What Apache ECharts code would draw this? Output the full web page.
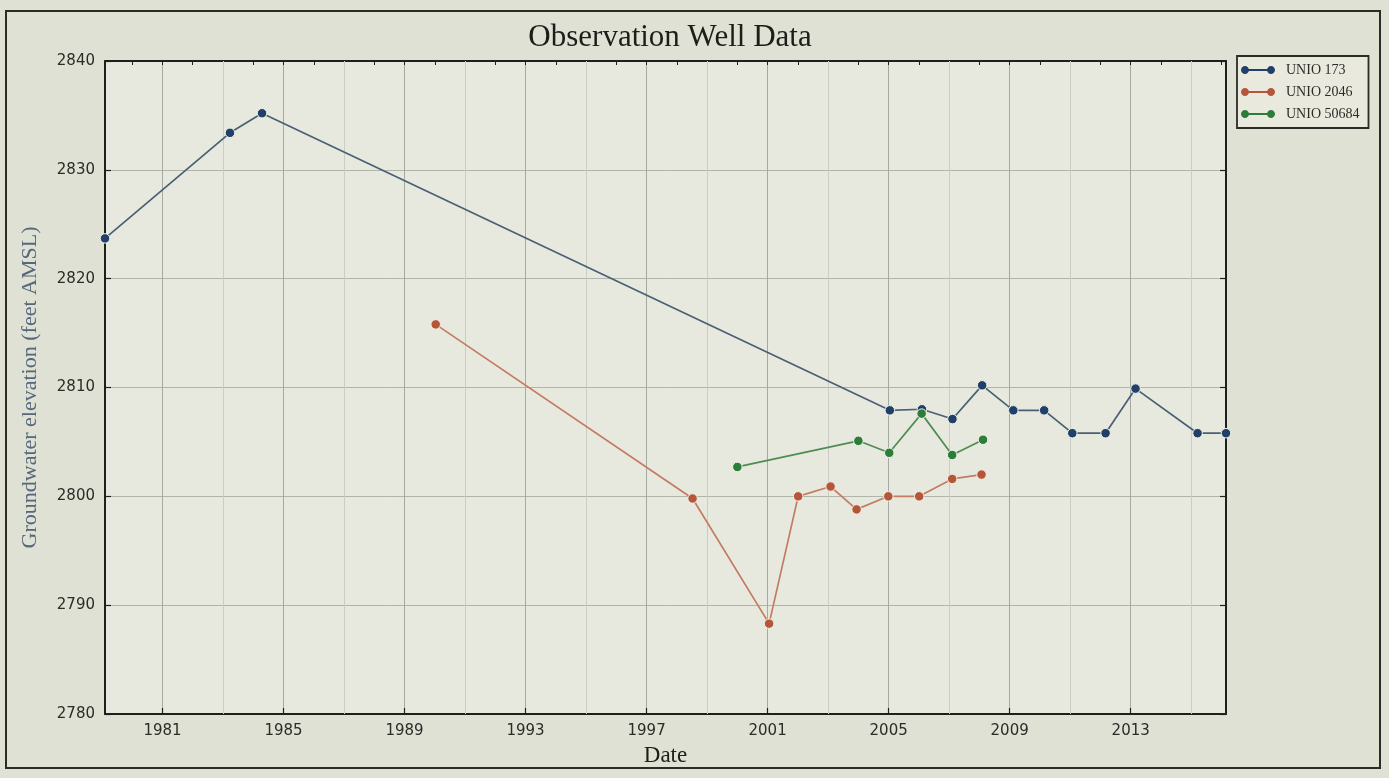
<!DOCTYPE html>
<html>
<head>
<meta charset="utf-8">
<script src="https://cdn.jsdelivr.net/npm/echarts@6/dist/echarts.min.js"></script>
<style>html,body{margin:0;padding:0;background:#dfe1d4;}#c{width:1389px;height:778px;}</style>
</head>
<body>
<div id="c"></div>
<script>
// ---- data (decimal years, elevation ft AMSL) ----
const unio173Years = [1979.1, 1983.23, 1984.29, 2005.04, 2006.1, 2007.11, 2008.09, 2009.12, 2010.14, 2011.07, 2012.17, 2013.16, 2015.21, 2016.15];
const unio173Values = [2823.7, 2833.4, 2835.2, 2807.9, 2808.0, 2807.1, 2810.2, 2807.9, 2807.9, 2805.8, 2805.8, 2809.9, 2805.8, 2805.8];
const unio2046Years = [1990.03, 1998.52, 2001.05, 2002.01, 2003.08, 2003.94, 2004.99, 2006.01, 2007.1, 2008.07];
const unio2046Values = [2815.8, 2799.8, 2788.3, 2800.0, 2800.9, 2798.8, 2800.0, 2800.0, 2801.6, 2802.0];
const unio50684Years = [2000.0, 2004.0, 2005.02, 2006.09, 2007.1, 2008.12];
const unio50684Values = [2802.7, 2805.1, 2804.0, 2807.6, 2803.8, 2805.2];
const seriesNames = ['UNIO 173', 'UNIO 2046', 'UNIO 50684'];
const majorYearTicks = [1981, 1985, 1989, 1993, 1997, 2001, 2005, 2009, 2013];
const minorGridYears = [1979, 1983, 1987, 1991, 1995, 1999, 2003, 2007, 2011, 2015];
const allYearTicks = [1980,1981,1982,1983,1984,1985,1986,1987,1988,1989,1990,1991,1992,1993,1994,1995,1996,1997,1998,1999,2000,2001,2002,2003,2004,2005,2006,2007,2008,2009,2010,2011,2012,2013,2014,2015,2016];
const xMin = 1979.1, xMax = 2016.15;
const yMin = 2780, yMax = 2840, yStep = 10;

const lineColors = ['#4a5f74', '#c27c62', '#4f8c52'];
const markerColors = ['#20406a', '#b5563b', '#2d7d3a'];

function pairs(xs, ys) { return xs.map((x, i) => [x, ys[i]]); }

const legendIcon = 'path://' +
  'M0,4C0,1.79 1.79,0 4,0C6.21,0 8,1.79 8,4C8,6.21 6.21,8 4,8C1.79,8 0,6.21 0,4Z' +
  'M26,4C26,1.79 27.79,0 30,0C32.21,0 34,1.79 34,4C34,6.21 32.21,8 30,8C27.79,8 26,6.21 26,4Z' +
  'M7.5,3L26.5,3L26.5,5L7.5,5Z';
const tickFont = { fontFamily: 'DejaVu Sans', fontSize: 15, color: '#2a2c28' };
const axisLine = { show: true, lineStyle: { color: '#1e201c', width: 2 } };

const chart = echarts.init(document.getElementById('c'), null, { renderer: 'canvas' });

const mkSeries = (i, xs, ys, extra) => Object.assign({
  name: seriesNames[i],
  type: 'line',
  data: pairs(xs, ys),
  xAxisIndex: 0, yAxisIndex: 0,
  symbol: 'circle', symbolSize: 9.5,
  lineStyle: { color: lineColors[i], width: 1.7 },
  itemStyle: { color: markerColors[i], borderColor: '#f2f2e6', borderWidth: 1 },
  emphasis: { disabled: true },
  animation: false,
  clip: false,
  z: 3
}, extra || {});

chart.setOption({
  backgroundColor: '#dfe1d4',
  animation: false,
  title: {
    text: 'Observation Well Data',
    left: 665, textAlign: 'center', top: 17,
    textStyle: { fontFamily: 'Liberation Serif', fontWeight: 'normal', fontSize: 31, color: '#1c1e1a' }
  },
  graphic: [{
    type: 'rect', silent: true, z: -1,
    shape: { x: 6, y: 11, width: 1374, height: 757 },
    style: { fill: 'none', stroke: '#2a2c28', lineWidth: 2 }
  }],
  legend: {
    orient: 'vertical', left: 1237, top: 56,
    data: seriesNames.map((n, i) => ({ name: n, itemStyle: { color: markerColors[i], borderWidth: 0 } })),
    icon: legendIcon, itemWidth: 34, itemHeight: 8, itemGap: 8,
    padding: [7, 9, 7, 4],
    backgroundColor: '#e9e9dd', borderColor: '#2a2c28', borderWidth: 1.8,
    textStyle: { fontFamily: 'Liberation Serif', fontSize: 14, color: '#2a2c28', padding: [0, 0, 0, 6] }
  },
  grid: { left: 105, right: 163, top: 61, bottom: 64, show: true, backgroundColor: '#e8e9de', borderWidth: 0 },
  xAxis: [{
    type: 'value', min: xMin, max: xMax, position: 'bottom',
    name: 'Date', nameLocation: 'middle', nameGap: 30,
    nameTextStyle: { fontFamily: 'Liberation Serif', fontSize: 23, color: '#1c1e1a' },
    axisLine: axisLine,
    axisTick: { show: true, inside: true, length: 6, customValues: majorYearTicks, lineStyle: { color: '#1e201c', width: 1.2 } },
    axisLabel: { show: true, customValues: majorYearTicks, formatter: v => String(Math.round(v)), margin: 10, ...tickFont },
    splitLine: { show: true, lineStyle: { color: '#a4aaa2', width: 1 } },
    minorTick: { show: false }
  }, {
    type: 'value', min: xMin, max: xMax, position: 'top',
    axisLine: axisLine,
    axisTick: { show: true, inside: true, length: 4, customValues: allYearTicks, lineStyle: { color: '#1e201c', width: 1 } },
    axisLabel: { show: false },
    splitLine: { show: false }
  }],
  yAxis: [{
    type: 'value', min: yMin, max: yMax, interval: yStep, position: 'left',
    name: 'Groundwater elevation (feet AMSL)', nameLocation: 'middle', nameGap: 64, nameRotate: 90,
    nameTextStyle: { fontFamily: 'Liberation Serif', fontSize: 22, color: '#55677a' },
    axisLine: axisLine,
    axisTick: { show: true, inside: true, length: 6, lineStyle: { color: '#1e201c', width: 1.2 } },
    axisLabel: { margin: 10, formatter: v => String(v), ...tickFont },
    splitLine: { show: true, lineStyle: { color: '#b0b5ac', width: 1 } }
  }, {
    type: 'value', min: yMin, max: yMax, interval: yStep, position: 'right',
    axisLine: axisLine,
    axisTick: { show: true, inside: true, length: 6, lineStyle: { color: '#1e201c', width: 1.2 } },
    axisLabel: { show: false },
    splitLine: { show: false }
  }],
  series: [
    mkSeries(0, unio173Years, unio173Values, {
      markLine: {
        silent: true, symbol: 'none', animation: false, z: 1,
        label: { show: false },
        lineStyle: { color: '#c9cdc3', type: 'solid', width: 1 },
        emphasis: { disabled: true },
        data: minorGridYears.filter(y => y >= xMin && y <= xMax).map(y => ({ xAxis: y }))
      }
    }),
    mkSeries(1, unio2046Years, unio2046Values),
    mkSeries(2, unio50684Years, unio50684Values)
  ]
});
</script>
</body>
</html>
